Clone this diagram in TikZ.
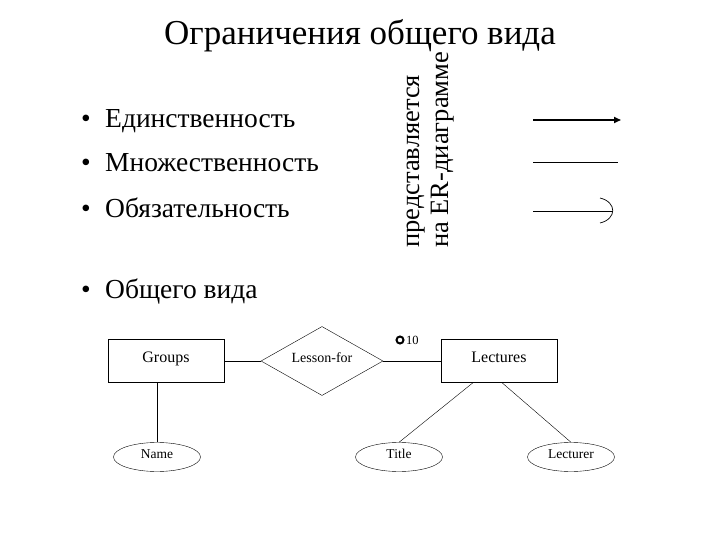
\documentclass[tikz,border=0pt]{standalone}
\usepackage{fontspec}
\setmainfont{Liberation Serif}
\usetikzlibrary{shapes.geometric,calc,arrows.meta}
\begin{document}
\begin{tikzpicture}[x=1pt,y=-1pt,
  bullet/.style={anchor=base west,inner sep=0pt,font=\fontsize{27.5}{30}\selectfont},
  entity/.style={draw,minimum width=116pt,minimum height=43pt,inner sep=0pt,text height=1.2ex,text depth=0.7ex,font=\fontsize{16}{18}\selectfont},
  attr/.style={draw,ellipse,minimum width=87pt,minimum height=29pt,inner sep=0pt,text height=1.2ex,text depth=0.7ex,font=\fontsize{13.5}{15}\selectfont},
  rel/.style={draw,diamond,aspect=1.77,minimum width=122pt,minimum height=69pt,inner sep=0pt,text height=1.2ex,text depth=0.7ex,font=\fontsize{14}{16}\selectfont},
  conn/.style={line width=0.6pt},
  vtext/.style={rotate=90,anchor=base west,inner sep=0pt,font=\fontsize{26.5}{30}\selectfont}]
\useasboundingbox (0,0) rectangle (720,540);
\node[inner sep=0pt,font=\fontsize{35}{40}\selectfont] (title) at (360,36) {Ограничения общего вида};
\node[bullet] (d1) at (81,128) {•};
\node[bullet] (b1) at (105,128) {Единственность};
\node[bullet] (d2) at (81,172) {•};
\node[bullet] (b2) at (105,172) {Множественность};
\node[bullet] (d3) at (81,218) {•};
\node[bullet] (b3) at (105,218) {Обязательность};
\node[bullet] (d4) at (81,298) {•};
\node[bullet] (b4) at (105,298) {Общего вида};
\node[vtext] (v1) at (419,248) {представляется};
\node[vtext] (v2) at (448,248) {на ER-диаграмме};
\coordinate (a1s) at (533,120); \coordinate (a1e) at (621,120);
\draw[line width=1.6pt,-{Triangle[length=7pt,width=6pt]}] (a1s) -- (a1e);
\coordinate (a2s) at (533,162); \coordinate (a2e) at (618,162);
\draw[line width=0.7pt] (a2s) -- (a2e);
\coordinate (a3s) at (533,211); \coordinate (a3e) at (612,211);
\draw[line width=0.7pt] (a3s) -- (a3e);
\coordinate (c1) at (600,198); \coordinate (c2) at (600,223);
\draw[line width=0.7pt] (c1) .. controls (617,202) and (617,219) .. (c2);
\node[entity] (groups) at (166,361) {Groups};
\node[rel] (lesson) at (322,361) {Lesson-for};
\node[entity] (lect) at (499,361) {Lectures};
\node[attr] (name) at (157,457) {Name};
\node[attr] (ttl) at (399,457) {Title};
\node[attr] (lectr) at (571,457) {Lecturer};
\draw[conn] (groups.east) -- (lesson.west);
\draw[conn] (lesson.east) -- (lect.west);
\draw[conn] (groups.south -| name.north) -- (name.north);
\draw[line width=0.4pt] ($(lect.south)+(-26,0)$) -- (ttl.north);
\draw[line width=0.4pt] ($(lect.south)+(3,0)$) -- (lectr.north);
\node[draw,circle,line width=2pt,minimum size=7pt,inner sep=0pt] (ring) at (400,340) {};
\node[anchor=west,inner sep=0pt,font=\fontsize{12.5}{14}\selectfont] (ten) at (406,340) {10};
\end{tikzpicture}
\end{document}
